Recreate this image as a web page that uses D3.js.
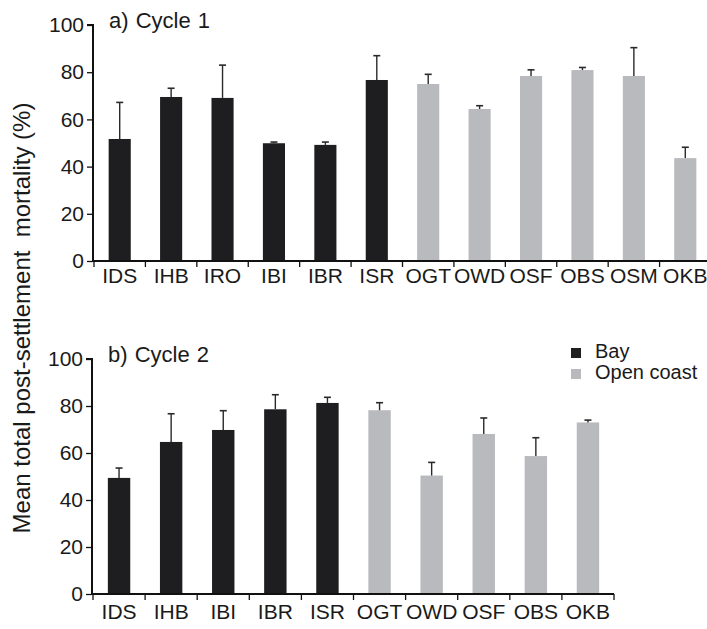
<!DOCTYPE html>
<html><head><meta charset="utf-8">
<script src="https://cdn.jsdelivr.net/npm/d3@7"></script>
<style>
body{margin:0;background:#fff;}
text{font-family:"Liberation Sans",Arial,Helvetica,sans-serif;fill:#1a1a1a;}
</style></head>
<body><svg id="c" width="707" height="629"></svg>
<script>
const catsA = ["IDS","IHB","IRO","IBI","IBR","ISR","OGT","OWD","OSF","OBS","OSM","OKB"];
const groupA = ["Bay","Bay","Bay","Bay","Bay","Bay","Open coast","Open coast","Open coast","Open coast","Open coast","Open coast"];
const meanA = [51.7,69.5,69.1,49.9,49.2,76.7,75.0,64.4,78.4,80.9,78.4,43.6];
const errA  = [15.5,3.7,13.9,0.5,1.2,10.3,4.1,1.4,2.6,1.1,12.0,4.6];

const catsB = ["IDS","IHB","IBI","IBR","ISR","OGT","OWD","OSF","OBS","OKB"];
const groupB = ["Bay","Bay","Bay","Bay","Bay","Open coast","Open coast","Open coast","Open coast","Open coast"];
const meanB = [49.4,64.7,69.8,78.6,81.3,78.2,50.4,68.1,58.7,73.0];
const errB  = [4.2,12.0,8.2,6.2,2.4,3.2,5.6,6.8,7.8,1.0];

const yTicks = [0,20,40,60,80,100];
const groups = ["Bay","Open coast"];
const colors = {"Bay":"#1e1e21","Open coast":"#b9babd"};

const svg = d3.select("#c");

function panel(cats, grp, mean, err, title, xr, yr, labelOff){
  const g = svg.append("g");
  const x = d3.scaleBand().domain(cats).range(xr).padding(0);
  const y = d3.scaleLinear().domain([0,100]).range(yr);
  const bw = x.bandwidth()*0.43;
  g.selectAll("rect.bar").data(cats).enter().append("rect")
    .attr("x", (d)=>x(d)+x.bandwidth()/2-bw/2)
    .attr("width", bw)
    .attr("y", (d,i)=>y(mean[i]))
    .attr("height", (d,i)=>y(0)-y(mean[i]))
    .attr("fill", (d,i)=>colors[grp[i]]);
  cats.forEach((d,i)=>{
    const cx = x(d)+x.bandwidth()/2;
    g.append("line").attr("x1",cx).attr("x2",cx)
      .attr("y1",y(mean[i])).attr("y2",y(mean[i]+err[i]))
      .attr("stroke","#2a2a2a").attr("stroke-width",1.4);
    g.append("line").attr("x1",cx-3.5).attr("x2",cx+3.5)
      .attr("y1",y(mean[i]+err[i])).attr("y2",y(mean[i]+err[i]))
      .attr("stroke","#2a2a2a").attr("stroke-width",1.6);
  });
  const ya = d3.axisLeft(y).tickValues(yTicks).tickSize(6).tickPadding(3);
  const yg = g.append("g").attr("transform",`translate(${xr[0]-1},0)`).call(ya);
  yg.select(".domain").attr("stroke","#111").attr("stroke-width",2).attr("d",`M-6,${yr[1]}H0V${yr[0]}`);
  yg.selectAll(".tick line").attr("stroke","#111").attr("stroke-width",1.3);
  yg.selectAll(".tick text").style("font-size","21px").attr("fill","#1a1a1a").style("font-family","Liberation Sans, Arial, sans-serif");
  const xa = d3.axisBottom(x).tickSize(0).tickPadding(labelOff);
  const xg = g.append("g").attr("transform",`translate(0,${yr[0]})`).call(xa);
  xg.select(".domain").attr("stroke","#111").attr("stroke-width",2.2).attr("d",`M${xr[0]-1},0H${xr[1]}`);
  xg.selectAll(".tick text").style("font-size","21px").attr("fill","#1a1a1a").style("font-family","Liberation Sans, Arial, sans-serif");
  const bounds = cats.map(d=>x(d)).concat([xr[1]]);
  g.selectAll("line.bt").data(bounds).enter().append("line")
    .attr("x1",d=>d).attr("x2",d=>d).attr("y1",yr[0]).attr("y2",yr[0]+6)
    .attr("stroke","#111").attr("stroke-width",1.3);
  g.append("text").attr("x",xr[0]+15).attr("y",yr[1]+3).text(title)
    .style("font-size","22px").attr("word-spacing","1px");
  return {x,y};
}

panel(catsA, groupA, meanA, errA, "a) Cycle 1", [94,711], [261,25], 7);
panel(catsB, groupB, meanB, errB, "b) Cycle 2", [93,614], [594,359], 10);

const lg = svg.append("g").attr("transform","translate(571,348)");
groups.forEach((k,i)=>{
  lg.append("rect").attr("x",0).attr("y",i*21).attr("width",10).attr("height",10).attr("fill",colors[k]);
  lg.append("text").attr("x",24).attr("y",i*21+10).text(k).style("font-size","20px");
});

svg.append("text").attr("transform","translate(30,318) rotate(-90)")
  .attr("text-anchor","middle").style("font-size","24px")
  .text("Mean total post-settlement  mortality (%)").attr("xml:space","preserve").style("white-space","pre");
</script></body></html>
